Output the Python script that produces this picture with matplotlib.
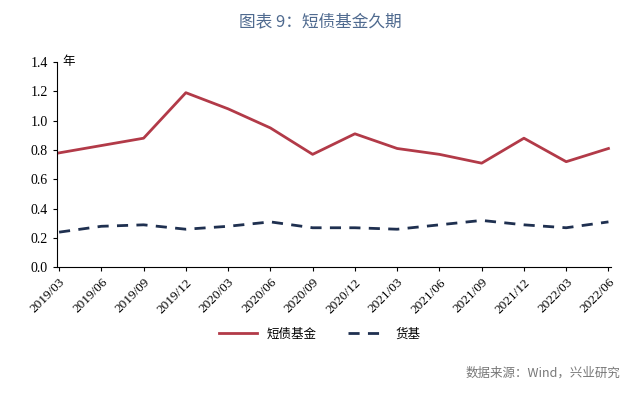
import matplotlib.pyplot as plt

plt.rcParams['font.family'] = ['Noto Sans CJK SC', 'DejaVu Sans']

dates = ['2019/03', '2019/06', '2019/09', '2019/12', '2020/03', '2020/06', '2020/09',
         '2020/12', '2021/03', '2021/06', '2021/09', '2021/12', '2022/03', '2022/06']
short_bond = [0.78, 0.83, 0.88, 1.19, 1.08, 0.95, 0.77, 0.91, 0.81, 0.77, 0.71, 0.88, 0.72, 0.81]
money_fund = [0.24, 0.28, 0.29, 0.26, 0.28, 0.31, 0.27, 0.27, 0.26, 0.29, 0.32, 0.29, 0.27, 0.31]

fig = plt.figure(figsize=(6.4, 4.07), dpi=100)
ax = fig.add_axes([0.089, 0.343, 0.865, 0.505])
x = range(len(dates))
ax.plot(x, short_bond, color='#b23a48', lw=2, solid_joinstyle='round', label='短债基金')
ax.plot(x, money_fund, color='#1f3050', lw=2, ls=(0, (4, 3)), label='货基')

ax.set_xlim(-0.05, len(dates) - 0.95)
ax.set_ylim(0, 1.4)
ax.set_yticks([i / 10 for i in range(0, 15, 2)])
ax.set_yticklabels([f'{i / 10:.1f}' for i in range(0, 15, 2)], family='Liberation Serif', fontsize=10)
ax.set_xticks(list(x))
ax.set_xticklabels(dates, rotation=45, ha='right', rotation_mode='anchor',
                   family='Liberation Serif', fontsize=9.5)
for s in ['top', 'right']:
    ax.spines[s].set_visible(False)
ax.tick_params(direction='out', length=3)
ax.text(0.01, 1.0, '年', transform=ax.transAxes, fontsize=9, va='center')

fig.text(0.5, 0.935, '图表 9：短债基金久期', ha='center', fontsize=12, weight='medium', color='#4f6a8f')
fig.legend(loc='lower center', bbox_to_anchor=(0.5, 0.135), ncol=2, frameon=False,
           fontsize=9, handlelength=3, columnspacing=2.5)
fig.text(0.97, 0.075, '数据来源：Wind，兴业研究', ha='right', fontsize=9, color='#777777')

fig.savefig('out.png')
